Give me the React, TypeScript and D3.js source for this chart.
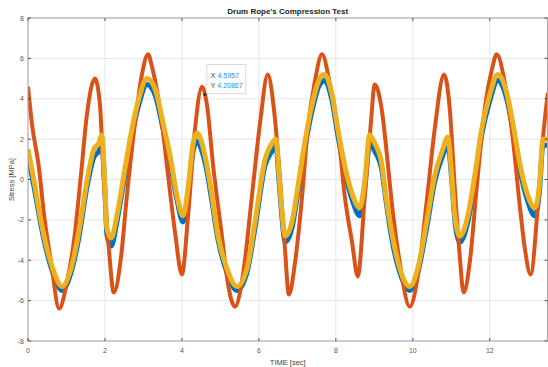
import React, { useEffect, useRef } from 'react';
import * as d3 from 'd3';

// --- data ---
const orangeTime = [
  0.0, 0.1, 0.29, 0.42, 0.6, 0.81, 1.01, 1.19, 1.38, 1.53, 1.74, 1.87, 1.97, 2.1, 2.23, 2.42, 2.57, 2.75, 2.96,
  3.12, 3.22, 3.48, 3.64, 3.82, 4.0, 4.16, 4.34, 4.52, 4.65, 4.81, 5.04, 5.19, 5.38, 5.58, 5.82, 6.03, 6.23,
  6.39, 6.55, 6.68, 6.78, 6.94, 7.12, 7.27, 7.45, 7.64, 7.84, 8.05, 8.23, 8.42, 8.57, 8.75, 8.91, 9.01, 9.19,
  9.35, 9.45, 9.66, 9.92, 10.13, 10.36, 10.57, 10.81, 10.96, 11.09, 11.22, 11.32, 11.48, 11.66, 11.87, 12.05,
  12.18, 12.39, 12.6, 12.78, 12.91, 13.06, 13.25, 13.38, 13.51,
];
const orangeVals = [
  4.6, 2.8, 0.5, -1.8, -4.1, -6.4, -5.1, -3.1, 0.3, 3.2, 5.0, 3.7, -0.1, -3.4, -5.6, -3.8, -0.8, 2.3, 5.2,
  6.2, 5.6, 2.8, 0.2, -2.6, -4.7, -1.8, 2.5, 4.6, 3.7, 0.7, -2.8, -5.1, -6.3, -4.8, -0.8, 2.8, 5.2,
  3.5, 0.0, -3.5, -5.7, -4.1, -0.9, 2.5, 4.8, 6.2, 4.8, 2.5, -0.8, -3.1, -4.8, -0.9, 2.8, 4.7, 3.5,
  0.8, -1.1, -4.1, -6.3, -4.8, -1.1, 2.5, 5.2, 3.5, -0.4, -3.8, -5.6, -4.1, -0.4, 3.5, 5.4,
  6.2, 4.8, 2.0, -1.3, -3.4, -4.7, -1.3, 2.0, 4.3,
];

const byTime = [
  0.0, 0.16, 0.34, 0.49, 0.68, 0.88, 1.12, 1.32, 1.53, 1.71, 1.84, 1.92, 2.0, 2.05, 2.16, 2.31, 2.49, 2.68,
  2.88, 3.09, 3.3, 3.51, 3.69, 3.87, 4.03, 4.16, 4.29, 4.39, 4.52, 4.65, 4.78, 4.94, 5.17, 5.43, 5.69, 5.9,
  6.16, 6.34, 6.44, 6.52, 6.6, 6.68, 6.86, 7.01, 7.19, 7.38, 7.58, 7.71, 7.9, 8.05, 8.23, 8.44, 8.62, 8.75,
  8.88, 9.01, 9.19, 9.3, 9.45, 9.66, 9.92, 10.13, 10.36, 10.57, 10.78, 10.91, 11.01, 11.09, 11.22, 11.43,
  11.61, 11.79, 12.0, 12.21, 12.44, 12.6, 12.78, 12.99, 13.17, 13.3, 13.38, 13.51,
];
const yellowVals = [
  1.5, -0.1, -2.1, -3.4, -4.6, -5.3, -4.4, -2.6, -0.1, 1.5, 1.8, 2.2, -0.4, -2.4, -2.9, -1.8, 0.2, 2.3,
  4.0, 5.0, 4.5, 2.8, 1.2, -0.8, -1.8, -0.4, 1.8, 2.3, 1.8, 0.7, -0.8, -2.8, -4.4, -5.3, -4.4, -2.1,
  1.0, 1.8, 2.0, 0.3, -1.6, -2.8, -2.1, -0.4, 1.8, 3.7, 5.0, 5.2, 4.2, 2.5, 0.7, -0.8, -1.4, -0.1,
  2.2, 1.8, 0.8, -0.8, -2.6, -4.4, -5.3, -4.4, -2.1, 0.2, 1.5, 2.1, 0.2, -1.8, -2.8, -1.8,
  0.2, 2.5, 4.2, 5.2, 4.3, 2.8, 0.8, -0.8, -1.4, -0.1, 2.0, 2.0,
];
const blueVals = [
  1.2, -0.4, -2.3, -3.6, -4.8, -5.5, -4.6, -2.9, -0.4, 1.1, 1.4, 1.8, -0.6, -2.7, -3.3, -2.1, -0.1, 2.0,
  3.7, 4.7, 4.2, 2.5, 0.9, -1.0, -2.1, -0.7, 1.4, 1.9, 1.4, 0.4, -1.1, -3.0, -4.6, -5.5, -4.6, -2.4,
  0.7, 1.4, 1.7, 0.0, -1.9, -3.1, -2.4, -0.7, 1.5, 3.4, 4.7, 4.9, 3.9, 2.2, 0.4, -1.1, -1.8, -0.4,
  1.8, 1.4, 0.5, -1.0, -2.9, -4.6, -5.5, -4.6, -2.4, -0.1, 1.2, 1.7, 0.0, -2.0, -3.1, -2.1,
  -0.1, 2.2, 3.9, 4.9, 4.0, 2.5, 0.5, -1.1, -1.8, -0.4, 1.7, 1.7,
];

const xTicks = [0, 2, 4, 6, 8, 10, 12];
const yTicks = [-8, -6, -4, -2, 0, 2, 4, 6, 8];
const xDomain = [0, 13.5];
const yDomain = [-8, 8];
const tipPoint = [4.5957, 4.20867];
const tipLabels = ['4.5957', '4.20867'];

const App: React.FC = () => {
  const svgRef = useRef<SVGSVGElement | null>(null);

  useEffect(() => {
    if (!svgRef.current) return;
    const width = 548;
    const height = 367;
    const margin = { top: 18, right: 0.5, bottom: 26, left: 28 };

    const svg = d3.select(svgRef.current);
    svg.selectAll('*').remove();

    const x = d3.scaleLinear().domain(xDomain).range([margin.left, width - margin.right]);
    const y = d3.scaleLinear().domain(yDomain).range([height - margin.bottom, margin.top]);
    const [x0, x1] = x.range();
    const [y0, y1] = y.range();

    const font = "'Liberation Sans', Arial, sans-serif";

    svg.append('defs').append('clipPath').attr('id', 'plotClip')
      .append('rect').attr('x', x0).attr('y', y1).attr('width', x1 - x0).attr('height', y0 - y1);

    // grid
    const grid = svg.append('g').attr('stroke', '#e6e6e6').attr('stroke-width', 1);
    xTicks.forEach(t => {
      grid.append('line').attr('x1', x(t)).attr('x2', x(t)).attr('y1', y1).attr('y2', y0);
    });
    yTicks.forEach(t => {
      grid.append('line').attr('x1', x0).attr('x2', x1).attr('y1', y(t)).attr('y2', y(t));
    });

    // series (noisy bands drawn as thick strokes)
    const line = d3.line<[number, number]>()
      .x(d => x(d[0])).y(d => y(d[1]))
      .curve(d3.curveMonotoneX);

    const series = [
      { time: byTime, vals: blueVals, color: '#0072BD', w: 5 },
      { time: orangeTime, vals: orangeVals, color: '#D95319', w: 4 },
      { time: byTime, vals: yellowVals, color: '#EDB120', w: 5 },
    ];
    const plot = svg.append('g').attr('clip-path', 'url(#plotClip)');
    series.forEach(s => {
      const pts: [number, number][] = s.time.map((t, i) => [t, s.vals[i]]);
      plot.append('path')
        .datum(pts)
        .attr('fill', 'none')
        .attr('stroke', s.color)
        .attr('stroke-width', s.w)
        .attr('stroke-linejoin', 'round')
        .attr('d', line);
    });

    // box + ticks
    svg.append('rect')
      .attr('x', x0).attr('y', y1).attr('width', x1 - x0).attr('height', y0 - y1)
      .attr('fill', 'none').attr('stroke', '#a6a6a6').attr('stroke-width', 1);
    const ticks = svg.append('g').attr('stroke', '#555').attr('stroke-width', 1);
    xTicks.forEach(t => {
      ticks.append('line').attr('x1', x(t)).attr('x2', x(t)).attr('y1', y0).attr('y2', y0 - 3);
      ticks.append('line').attr('x1', x(t)).attr('x2', x(t)).attr('y1', y1).attr('y2', y1 + 3);
    });
    yTicks.forEach(t => {
      ticks.append('line').attr('x1', x0).attr('x2', x0 + 3).attr('y1', y(t)).attr('y2', y(t));
      ticks.append('line').attr('x1', x1).attr('x2', x1 - 3).attr('y1', y(t)).attr('y2', y(t));
    });

    // tick labels
    xTicks.forEach(t => {
      svg.append('text')
        .attr('x', x(t)).attr('y', y0 + 12)
        .attr('text-anchor', 'middle').attr('font-family', font).attr('font-size', 7)
        .attr('fill', '#555').text(t);
    });
    yTicks.forEach(t => {
      svg.append('text')
        .attr('x', x0 - 4).attr('y', y(t) + 2.5)
        .attr('text-anchor', 'end').attr('font-family', font).attr('font-size', 7)
        .attr('fill', '#555').text(t);
    });

    // titles
    svg.append('text')
      .attr('x', (x0 + x1) / 2).attr('y', 14)
      .attr('text-anchor', 'middle').attr('font-family', font).attr('font-size', 8)
      .attr('font-weight', 'bold').attr('fill', '#222').text("Drum Rope's Compression Test");
    svg.append('text')
      .attr('x', (x0 + x1) / 2).attr('y', 365)
      .attr('text-anchor', 'middle').attr('font-family', font).attr('font-size', 7.5)
      .attr('fill', '#444').text('TIME [sec]');
    svg.append('text')
      .attr('transform', `translate(14, ${(y0 + y1) / 2}) rotate(-90)`)
      .attr('text-anchor', 'middle').attr('font-family', font).attr('font-size', 7.5)
      .attr('fill', '#444').text('Stress [MPa]');

    // data tip
    const tx = x(tipPoint[0]);
    const ty = y(tipPoint[1]);
    const tip = svg.append('g');
    tip.append('rect')
      .attr('x', tx + 2).attr('y', ty - 30).attr('width', 39).attr('height', 29)
      .attr('fill', '#fff').attr('fill-opacity', 0.92)
      .attr('stroke', '#d0d0d0').attr('stroke-width', 0.8);
    tip.append('circle').attr('cx', tx).attr('cy', ty).attr('r', 1.4).attr('fill', '#222');
    const rows = [['X', tipLabels[0]], ['Y', tipLabels[1]]];
    rows.forEach((r, i) => {
      const tEl = tip.append('text')
        .attr('x', tx + 6).attr('y', ty - 17 + i * 10)
        .attr('font-family', font).attr('font-size', 7);
      tEl.append('tspan').attr('fill', '#444').text(r[0] + ' ');
      tEl.append('tspan').attr('fill', '#1a8cff').text(r[1]);
    });
  }, []);

  return (
    <div style={{ position: 'absolute', left: 0, top: 0, background: '#fff' }}>
      <svg ref={svgRef} width={548} height={367} style={{ display: 'block' }} />
    </div>
  );
};

export default App;
